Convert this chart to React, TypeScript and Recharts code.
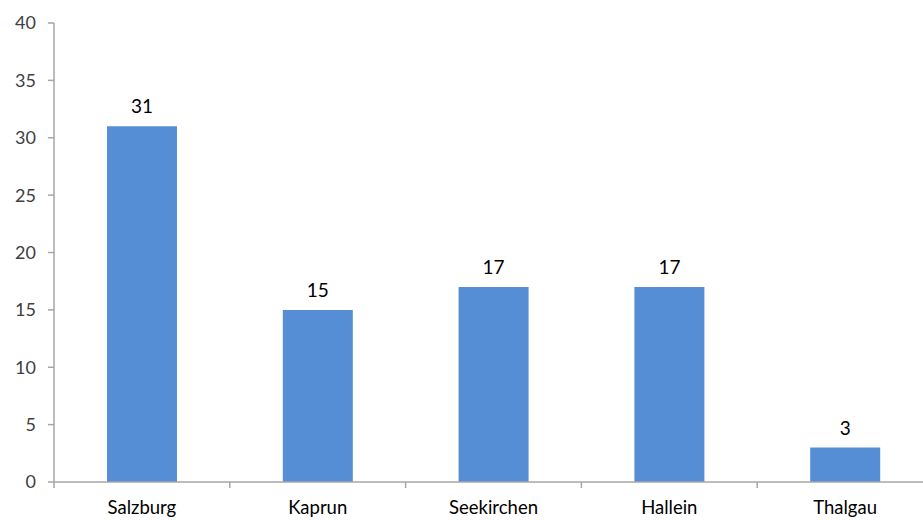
import React from "react";
import { BarChart, Bar, XAxis, YAxis, LabelList } from "recharts";

const categories = ["Salzburg", "Kaprun", "Seekirchen", "Hallein", "Thalgau"];
const values = [31, 15, 17, 17, 3];
const yTicks = [0, 5, 10, 15, 20, 25, 30, 35, 40];

const data = categories.map((name, i) => ({ name, value: values[i] }));

const CHART_W = 930;
const CHART_H = 512;
const MARGIN = { top: 15, right: 5, bottom: 8, left: 0 };
const Y_W = 46;
const STEP = (CHART_W - MARGIN.left - MARGIN.right - Y_W) / categories.length;
const FONT = "Lato, 'Open Sans', sans-serif";

const XTick = (props: any) => {
  const { x, y, payload, index } = props;
  const left = x - STEP / 2;
  return (
    <g>
      <line x1={left} y1={y - 8} x2={left} y2={y - 2} stroke="#A6A6A6" strokeWidth={1.5} />
      {index === categories.length - 1 && (
        <line x1={x + STEP / 2} y1={y - 8} x2={x + STEP / 2} y2={y - 2} stroke="#A6A6A6" strokeWidth={1.5} />
      )}
      <text x={x} y={y + 24} textAnchor="middle" fill="#000" fontSize={18.5} fontFamily={FONT}>
        {payload.value}
      </text>
    </g>
  );
};

export default function App() {
  return (
    <div
      style={{
        position: "fixed",
        left: 8,
        top: 8,
        width: 915,
        height: CHART_H,
        overflow: "hidden",
        background: "#fff",
      }}
    >
      <BarChart width={CHART_W} height={CHART_H} data={data} margin={MARGIN}>
        <YAxis
          width={Y_W}
          domain={[0, 40]}
          ticks={yTicks}
          interval={0}
          axisLine={{ stroke: "#A6A6A6", strokeWidth: 1.5 }}
          tickLine={{ stroke: "#A6A6A6", strokeWidth: 1.5 }}
          tickSize={6}
          tickMargin={12}
          tick={{ fill: "#404040", fontSize: 18, fontFamily: FONT }}
        />
        <XAxis
          dataKey="name"
          height={30}
          interval={0}
          axisLine={{ stroke: "#A6A6A6", strokeWidth: 1.5 }}
          tickLine={false}
          tick={<XTick />}
        />
        <Bar dataKey="value" fill="#558ED5" barSize={70} isAnimationActive={false}>
          <LabelList
            dataKey="value"
            position="top"
            offset={13}
            fill="#000"
            fontSize={19}
            fontFamily={FONT}
          />
        </Bar>
      </BarChart>
    </div>
  );
}
